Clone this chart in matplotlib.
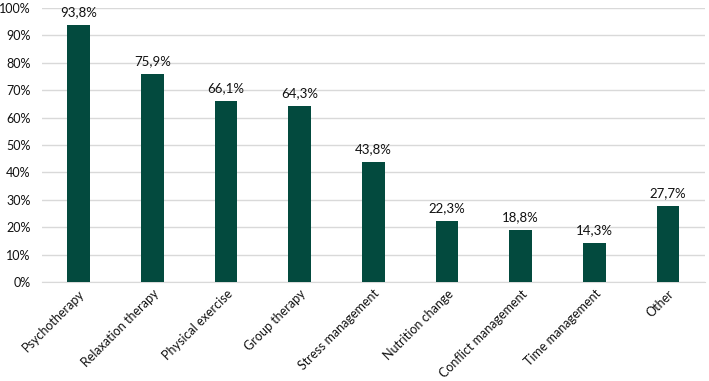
import matplotlib
matplotlib.use("Agg")
import matplotlib.pyplot as plt
from matplotlib.ticker import FuncFormatter

categories = ["Psychotherapy", "Relaxation therapy", "Physical exercise", "Group therapy",
              "Stress management", "Nutrition change", "Conflict management",
              "Time management", "Other"]
values = [93.8, 75.9, 66.1, 64.3, 43.8, 22.3, 18.8, 14.3, 27.7]

plt.rcParams['font.family'] = ['Lato', 'DejaVu Sans']

fig = plt.figure(figsize=(7.09, 3.81), dpi=100)
ax = fig.add_axes([0.059, 0.26, 0.935, 0.719])

x = range(len(categories))
bars = ax.bar(x, values, width=0.31, color="#034a3e", zorder=3)

for b, v in zip(bars, values):
    ax.annotate(f"{v:.1f}%".replace(".", ","), (b.get_x() + b.get_width() / 2, v),
                xytext=(0, 5), textcoords="offset points",
                ha="center", va="bottom", fontsize=9.5, color="#111111")

ax.set_ylim(0, 100)
ax.set_xlim(-0.5, len(categories) - 0.5)
ax.set_yticks(range(0, 101, 10))
ax.yaxis.set_major_formatter(FuncFormatter(lambda v, p: f"{int(v)}%"))
ax.grid(axis="y", color="#d9d9d9", linewidth=1, zorder=0)
for s in ["top", "right", "left"]:
    ax.spines[s].set_visible(False)
ax.spines["bottom"].set_color("#d9d9d9")
ax.tick_params(axis="both", length=0, colors="#111111")
ax.tick_params(axis="y", pad=8, labelsize=9)
ax.tick_params(axis="x", pad=4, labelsize=9)
ax.set_xticks(list(x))
ax.set_xticklabels(categories, rotation=45, ha="right", rotation_mode="anchor")

fig.savefig("out.png", dpi=100)
